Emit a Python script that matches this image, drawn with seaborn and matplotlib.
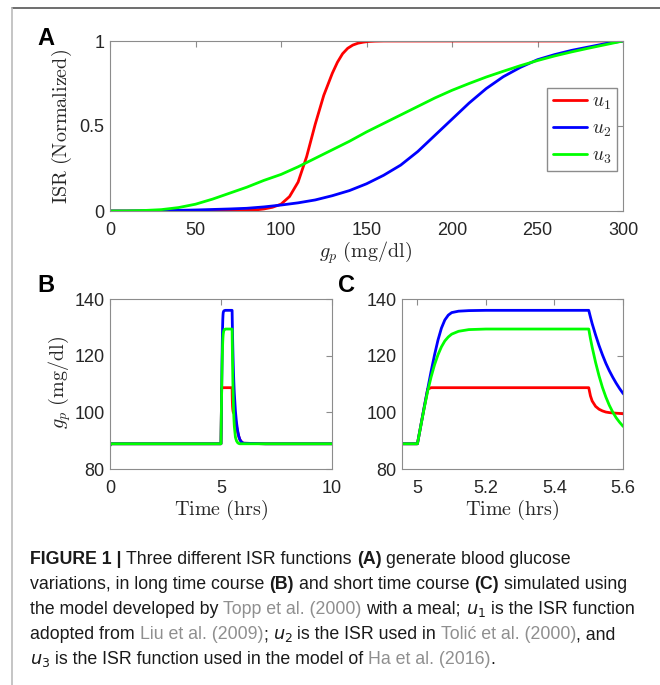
import matplotlib
matplotlib.use("Agg")
import matplotlib.pyplot as plt
from matplotlib.lines import Line2D
import seaborn as sns

sns.set_style("white")
plt.rcParams['font.family'] = ['Liberation Sans', 'DejaVu Sans']
plt.rcParams['mathtext.fontset'] = 'cm'

# ---- panel A: normalized ISR vs plasma glucose ----
g_red = [0, 20, 40, 60, 70, 80, 85, 90, 95, 100, 105, 110, 115, 120, 125,
         130, 133, 136, 139, 142, 145, 148, 151, 155, 160, 180, 200, 250, 300]
u1 = [0, 0, 0, 0, 0.001, 0.003, 0.006, 0.012, 0.022, 0.04, 0.085, 0.17, 0.32,
      0.51, 0.68, 0.81, 0.875, 0.925, 0.957, 0.976, 0.987, 0.993, 0.997,
      0.999, 1, 1, 1, 1, 1]

g_grid = [0, 10, 20, 30, 40, 50, 60, 70, 80, 90, 100, 110, 120, 130, 140, 150,
          160, 170, 180, 190, 200, 210, 220, 230, 240, 250, 260, 270, 280, 290, 300]
u2 = [0, 0, 0.001, 0.002, 0.004, 0.006, 0.009, 0.012, 0.016, 0.024, 0.035,
      0.048, 0.065, 0.09, 0.12, 0.16, 0.21, 0.27, 0.35, 0.445, 0.54, 0.635,
      0.72, 0.79, 0.845, 0.89, 0.92, 0.945, 0.965, 0.985, 1.0]
u3 = [0, 0.0005, 0.003, 0.008, 0.02, 0.04, 0.07, 0.105, 0.14, 0.18, 0.215,
      0.26, 0.31, 0.36, 0.41, 0.465, 0.515, 0.565, 0.615, 0.665, 0.71, 0.75,
      0.788, 0.822, 0.855, 0.885, 0.912, 0.936, 0.958, 0.979, 1.0]

# ---- panels B / C: simulated plasma glucose over time ----
t_hr = [0, 0.03, 2, 4, 5.0, 5.01, 5.02, 5.03, 5.04, 5.05, 5.06, 5.07, 5.08,
        5.09, 5.10, 5.12, 5.15, 5.2, 5.3, 5.4, 5.5, 5.505, 5.51, 5.52, 5.53,
        5.54, 5.55, 5.56, 5.57, 5.58, 5.59, 5.6, 5.65, 5.7, 5.75, 5.8, 5.85,
        5.9, 6.0, 7, 8, 9, 10]
gp_u1 = [88.3, 88.9, 88.9, 88.9, 88.9, 95.4, 101.9, 108.2, 108.7, 108.7, 108.7,
         108.7, 108.7, 108.7, 108.7, 108.7, 108.7, 108.7, 108.7, 108.7, 108.7,
         105.8, 104.0, 102.1, 101.1, 100.5, 100.1, 99.9, 99.8, 99.7, 99.6, 99.5,
         97.5, 95.0, 93.0, 91.5, 90.4, 89.8, 89.1, 88.9, 88.9, 88.9, 88.9]
gp_u2 = [88.3, 88.9, 88.9, 88.9, 88.9, 95.4, 102.0, 108.3, 114.5, 120.3, 125.5,
         129.7, 132.6, 134.3, 135.2, 135.7, 135.9, 136.0, 136.0, 136.0, 136.0,
         133.6, 131.3, 127.3, 123.6, 120.3, 117.3, 114.7, 112.4, 110.3, 108.4,
         106.7, 100.4, 96.3, 93.5, 91.6, 90.4, 89.7, 89.1, 88.9, 88.9, 88.9, 88.9]
gp_u3 = [88.3, 88.9, 88.9, 88.9, 88.9, 95.3, 101.6, 107.5, 112.5, 116.8, 120.3,
         123.1, 125.2, 126.6, 127.6, 128.6, 129.2, 129.4, 129.4, 129.4, 129.4,
         126.0, 123.0, 117.6, 112.9, 108.8, 105.4, 102.5, 100.1, 98.1, 96.5,
         95.1, 91.2, 89.9, 89.3, 89.0, 88.9, 88.9, 88.9, 88.9, 88.9, 88.9, 88.9]

labels = [r'$u_1$', r'$u_2$', r'$u_3$']
colors = ['#ff0000', '#0000ff', '#00ff00']

W, H = 660, 685
fig = plt.figure(figsize=(W / 100, H / 100), dpi=100)


def px_axes(l, t, r, b):
    return fig.add_axes([l / W, 1 - b / H, (r - l) / W, (b - t) / H])


def style(ax):
    for sp in ax.spines.values():
        sp.set_visible(True)
        sp.set_color('#8c8c8c')
        sp.set_linewidth(0.8)
    ax.tick_params(direction='in', top=True, right=True, length=4, width=0.8,
                   color='#8c8c8c', labelsize=13, labelcolor='#262626')
    ax.tick_params(axis='x', pad=8)
    ax.tick_params(axis='y', pad=4)
    ax.set_xlabel('')
    ax.set_ylabel('')


axA = px_axes(110, 41, 623, 211)
axB = px_axes(110, 299, 332, 469)
axC = px_axes(402, 299, 623, 469)

# panel A
sns.lineplot(x=g_red, y=u1, ax=axA, color=colors[0], lw=2, label=labels[0])
sns.lineplot(x=g_grid, y=u2, ax=axA, color=colors[1], lw=2, label=labels[1])
sns.lineplot(x=g_grid, y=u3, ax=axA, color=colors[2], lw=2, label=labels[2])
axA.set_xlim(0, 300)
axA.set_ylim(0, 1)
axA.set_xticks([0, 50, 100, 150, 200, 250, 300])
axA.set_yticks([0, 0.5, 1])
axA.set_yticklabels(['0', '0.5', '1'])
style(axA)
axA.legend(loc='upper left', bbox_to_anchor=(0.852, 0.7235), frameon=True,
           fancybox=False, edgecolor='#8c8c8c', framealpha=1, fontsize=14,
           handlelength=1.75, handletextpad=0.3, borderpad=0.28,
           labelspacing=0.4, borderaxespad=0)

# panels B and C
for ax in (axB, axC):
    for y, c in zip([gp_u1, gp_u2, gp_u3], colors):
        sns.lineplot(x=t_hr, y=y, ax=ax, color=c, lw=2)
    ax.set_ylim(80, 140)
    ax.set_yticks([80, 100, 120, 140])
    style(ax)

axB.set_xlim(0, 10)
axB.set_xticks([0, 5, 10])
axC.set_xlim(4.955, 5.6)
axC.set_xticks([5, 5.2, 5.4, 5.6])
axC.set_xticklabels(['5', '5.2', '5.4', '5.6'])

# axis titles (Computer Modern, as in the original)
lab = dict(fontsize=14.5, color='#262626', ha='center', va='center')
fig.text(62 / W, 1 - 127 / H, r'$\mathrm{ISR\ (Normalized)}$', rotation=90, **lab)
fig.text(366 / W, 1 - 253 / H, r'$g_p\ \mathrm{(mg/dl)}$', **lab)
fig.text(60 / W, 1 - 382 / H, r'$g_p\ \mathrm{(mg/dl)}$', rotation=90, **lab)
fig.text(221 / W, 1 - 510 / H, r'$\mathrm{Time\ (hrs)}$', **lab)
fig.text(512 / W, 1 - 510 / H, r'$\mathrm{Time\ (hrs)}$', **lab)

# panel letters
for s, x, y in [('A', 37, 45), ('B', 37, 292), ('C', 338, 292)]:
    fig.text(x / W, 1 - y / H, s, fontsize=17, fontweight='bold',
             color='black', ha='left', va='baseline')

# frame lines of the page
fig.add_artist(Line2D([12 / W, 1], [1 - 8 / H, 1 - 8 / H], color='#555555',
                      lw=1.2, transform=fig.transFigure))
fig.add_artist(Line2D([12 / W, 12 / W], [1 - 8 / H, 0], color='#bbbbbb',
                      lw=1.2, transform=fig.transFigure))

# caption
caption = [
    [('FIGURE 1 |', 'b'), (' Three different ISR functions ', 'n'), ('(A)', 'b'),
     (' generate blood glucose', 'n')],
    [('variations, in long time course ', 'n'), ('(B)', 'b'),
     (' and short time course ', 'n'), ('(C)', 'b'), (' simulated using', 'n')],
    [('the model developed by ', 'n'), ('Topp et al. (2000)', 'g'),
     (' with a meal; ', 'n'), (r'$u_1$', 'm'), (' is the ISR function', 'n')],
    [('adopted from ', 'n'), ('Liu et al. (2009)', 'g'), ('; ', 'n'),
     (r'$u_2$', 'm'), (' is the ISR used in ', 'n'), ('Tolić et al. (2000)', 'g'),
     (', and', 'n')],
    [(r'$u_3$', 'm'), (' is the ISR function used in the model of ', 'n'),
     ('Ha et al. (2016)', 'g'), ('.', 'n')],
]
base_y = [564, 589, 614, 639, 664]

renderer = fig.canvas.get_renderer()
cap_size = 12.8


def draw_text(x, y, s, kind, size):
    kw = dict(fontsize=size, ha='left', va='baseline', color='#1a1a1a')
    if kind == 'b':
        kw['fontweight'] = 'bold'
    elif kind == 'g':
        kw['color'] = '#8f8f8f'
    elif kind == 'm':
        kw['math_fontfamily'] = 'dejavusans'
    return fig.text(x / W, 1 - y / H, s, **kw)


probe = fig.text(0, 0, '| |', fontsize=cap_size)
w1 = probe.get_window_extent(renderer).width
probe.set_text('||')
space_w = w1 - probe.get_window_extent(renderer).width
probe.remove()

for segs, y in zip(caption, base_y):
    x = 30
    for s, kind in segs:
        lead = len(s) - len(s.lstrip(' '))
        trail = len(s) - len(s.rstrip(' '))
        x += lead * space_w
        t = draw_text(x, y, s.strip(' '), kind, cap_size)
        x += t.get_window_extent(renderer).width + trail * space_w

fig.savefig('out.png', dpi=100)
